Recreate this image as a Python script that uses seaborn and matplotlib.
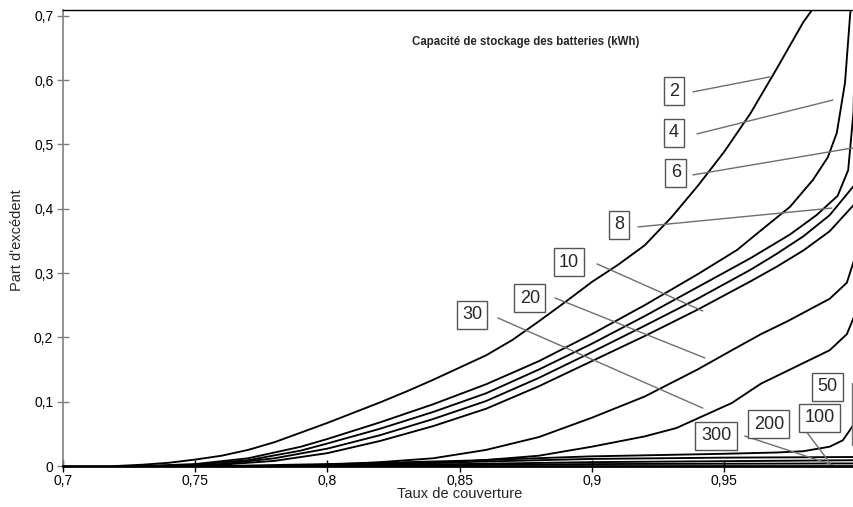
import numpy as np
import pandas as pd
import matplotlib
matplotlib.use("Agg")
import matplotlib.pyplot as plt
import seaborn as sns

# ---------------- data ----------------
capacities = ["2", "4", "6", "8", "10", "20", "30", "50", "100", "200", "300"]

x_2 = [0.72, 0.73, 0.74, 0.75, 0.76, 0.77, 0.78, 0.79, 0.80, 0.81, 0.82, 0.83, 0.84, 0.85,
       0.86, 0.87, 0.88, 0.89, 0.90, 0.91, 0.92, 0.93, 0.94, 0.95, 0.96, 0.97, 0.98, 0.9835]
y_2 = [0.0, 0.002, 0.005, 0.01, 0.016, 0.025, 0.037, 0.052, 0.067, 0.083, 0.099, 0.116, 0.134, 0.153,
       0.172, 0.196, 0.225, 0.255, 0.286, 0.313, 0.343, 0.386, 0.435, 0.488, 0.548, 0.618, 0.69, 0.71]

x_4 = [0.73, 0.75, 0.77, 0.79, 0.80, 0.82, 0.84, 0.86, 0.88, 0.90, 0.92, 0.94, 0.955, 0.9636,
       0.975, 0.9837, 0.9893, 0.9927, 0.9958, 0.9977, 0.9982]
y_4 = [0.0, 0.003, 0.012, 0.03, 0.042, 0.068, 0.096, 0.127, 0.163, 0.205, 0.25, 0.298, 0.336, 0.365,
       0.403, 0.445, 0.48, 0.518, 0.596, 0.70, 0.72]

x_6 = [0.735, 0.75, 0.77, 0.79, 0.80, 0.82, 0.84, 0.86, 0.88, 0.90, 0.92, 0.94, 0.96, 0.975,
       0.985, 0.993, 0.997, 0.999, 1.0]
y_6 = [0.0, 0.002, 0.009, 0.024, 0.035, 0.058, 0.084, 0.113, 0.15, 0.19, 0.233, 0.278, 0.323, 0.36,
       0.39, 0.42, 0.46, 0.55, 0.72]

x_8 = [0.74, 0.76, 0.78, 0.80, 0.82, 0.84, 0.86, 0.88, 0.90, 0.92, 0.94, 0.96, 0.97, 0.98, 0.99, 1.0]
y_8 = [0.0, 0.003, 0.012, 0.027, 0.048, 0.073, 0.101, 0.137, 0.177, 0.218, 0.26, 0.305, 0.33, 0.357,
       0.39, 0.44]

x_10 = [0.745, 0.76, 0.78, 0.80, 0.82, 0.84, 0.86, 0.88, 0.90, 0.92, 0.94, 0.96, 0.97, 0.98, 0.99, 1.0]
y_10 = [0.0, 0.002, 0.008, 0.02, 0.039, 0.062, 0.089, 0.124, 0.163, 0.202, 0.243, 0.287, 0.31, 0.335,
        0.365, 0.41]

x_20 = [0.78, 0.80, 0.82, 0.84, 0.86, 0.88, 0.90, 0.92, 0.94, 0.953, 0.964, 0.974, 0.99, 0.9965, 1.0]
y_20 = [0.0, 0.002, 0.006, 0.012, 0.025, 0.045, 0.075, 0.108, 0.15, 0.18, 0.205, 0.225, 0.26, 0.285, 0.33]

x_30 = [0.78, 0.82, 0.85, 0.88, 0.90, 0.92, 0.932, 0.953, 0.964, 0.974, 0.99, 0.9965, 1.0]
y_30 = [0.0, 0.002, 0.006, 0.016, 0.03, 0.046, 0.059, 0.098, 0.128, 0.148, 0.18, 0.205, 0.24]

x_50 = [0.76, 0.80, 0.85, 0.90, 0.95, 0.97, 0.98, 0.99, 0.995, 1.0]
y_50 = [0.0, 0.003, 0.008, 0.015, 0.019, 0.021, 0.023, 0.03, 0.04, 0.07]

x_100 = [0.78, 0.85, 0.90, 0.95, 1.0]
y_100 = [0.0, 0.006, 0.011, 0.013, 0.014]

x_200 = [0.80, 0.90, 1.0]
y_200 = [0.0, 0.006, 0.009]

x_300 = [0.80, 0.90, 1.0]
y_300 = [0.0, 0.003, 0.004]

series_x = [x_2, x_4, x_6, x_8, x_10, x_20, x_30, x_50, x_100, x_200, x_300]
series_y = [y_2, y_4, y_6, y_8, y_10, y_20, y_30, y_50, y_100, y_200, y_300]

x_ticks = [0.7, 0.75, 0.8, 0.85, 0.9, 0.95]
x_tick_labels = ["0,7", "0,75", "0,8", "0,85", "0,9", "0,95"]
y_ticks = [0, 0.1, 0.2, 0.3, 0.4, 0.5, 0.6, 0.7]
y_tick_labels = ["0", "0,1", "0,2", "0,3", "0,4", "0,5", "0,6", "0,7"]

title_text = "Capacité de stockage des batteries (kWh)"
x_label = "Taux de couverture"
y_label = "Part d'excédent"

# label box positions (data coords) and leader segments
label_pos = {"2": (0.9311, 0.583), "4": (0.9311, 0.518), "6": (0.9318, 0.456),
             "8": (0.9103, 0.375), "10": (0.8914, 0.317), "20": (0.8766, 0.261),
             "30": (0.8547, 0.235), "50": (0.9890, 0.123), "100": (0.9863, 0.0747),
             "200": (0.9670, 0.0653), "300": (0.9470, 0.0467)}
leaders = {"2": ((0.9383, 0.5817), (0.9674, 0.605)),
           "4": ((0.9398, 0.5163), (0.9912, 0.569)),
           "6": ((0.9383, 0.4526), (0.9988, 0.4946)),
           "8": ((0.9175, 0.3717), (0.9908, 0.401)),
           "10": ((0.9020, 0.3142), (0.9420, 0.241)),
           "20": ((0.8861, 0.2613), (0.9428, 0.168)),
           "30": ((0.8645, 0.2302), (0.9420, 0.090)),
           "50": ((0.9984, 0.1291), (0.9984, 0.0327)),
           "100": ((0.9787, 0.0669), (0.9901, 0.0047)),
           "200": ((0.9579, 0.0467), (0.9912, 0.0016))}

# ---------------- build frame ----------------
rows = []
for cap, xs, ys in zip(capacities, series_x, series_y):
    for xv, yv in zip(xs, ys):
        rows.append({"x": xv, "y": yv, "capacity": cap})
df = pd.DataFrame(rows)

sns.set_theme(style="white")
plt.rcParams["font.family"] = ["Liberation Sans", "DejaVu Sans"]

fig = plt.figure(figsize=(8.54, 5.07), dpi=100)
ax = fig.add_axes([63 / 854, 1 - 466 / 507, 1 - 63 / 854, (466 - 10) / 507])

sns.lineplot(data=df, x="x", y="y", units="capacity", estimator=None, sort=False,
             color="black", linewidth=1.35, ax=ax, legend=False)

ax.set_xlim(0.7, 0.9992)
ax.set_ylim(0, 0.709)

ax.set_xticks(x_ticks)
ax.set_xticklabels(x_tick_labels, fontsize=10)
ax.set_yticks(y_ticks)
ax.set_yticklabels(y_tick_labels, fontsize=10)
ax.tick_params(axis="x", direction="inout", length=8, width=1, color="black", pad=2, labelcolor="black")
ax.tick_params(axis="y", direction="inout", length=8, width=1, color="#808080", pad=3, labelcolor="black")
ax.xaxis.set_ticks_position("bottom")
ax.yaxis.set_ticks_position("left")

ax.spines["left"].set_color("#808080")
ax.spines["left"].set_linewidth(1.2)
ax.spines["top"].set_color("black")
ax.spines["top"].set_linewidth(1.0)
ax.spines["bottom"].set_color("black")
ax.spines["bottom"].set_linewidth(2.0)
ax.spines["right"].set_visible(False)

ax.set_xlabel("")
ax.set_ylabel("")
fig.text(460 / 854, 1 - 494 / 507, x_label, ha="center", va="center", fontsize=10.5)
fig.text(17 / 854, 1 - 240 / 507, y_label, ha="center", va="center", rotation=90, fontsize=10.5)
ax.text(0.8751, 0.659, title_text, ha="center", va="center", fontsize=8.3, fontweight="bold")

for cap, (p0, p1) in leaders.items():
    ax.plot([p0[0], p1[0]], [p0[1], p1[1]], color="#6e6e6e", linewidth=1.0, clip_on=False)

for cap in capacities:
    xv, yv = label_pos[cap]
    ax.text(xv, yv, cap, ha="center", va="center", fontsize=13,
            bbox=dict(boxstyle="square,pad=0.3", facecolor="white", edgecolor="#555555", linewidth=1.0))

fig.savefig("out.png", dpi=100, facecolor="white")
